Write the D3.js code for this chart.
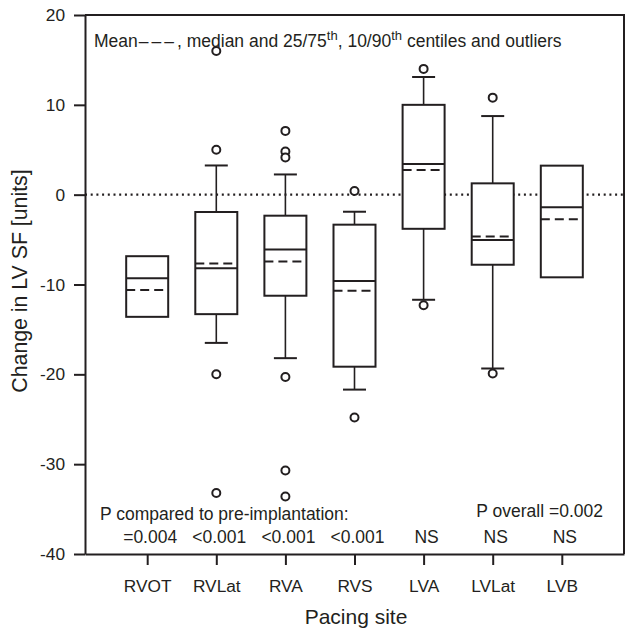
<!DOCTYPE html>
<html>
<head>
<meta charset="utf-8">
<script src="https://cdn.jsdelivr.net/npm/d3@7"></script>
<style>
  body { margin: 0; background: #fff; }
  svg text { font-family: "Liberation Sans", Arial, sans-serif; fill: #231f20; }
</style>
</head>
<body>
<svg id="chart" width="628" height="631"></svg>
<script>
// values
var sites = ["RVOT", "RVLat", "RVA", "RVS", "LVA", "LVLat", "LVB"];
var q1 = [-13.6, -13.3, -11.25, -19.15, -3.8, -7.8, -9.2];
var q3 = [-6.85, -1.93, -2.34, -3.34, 10.0, 1.26, 3.23];
var medians = [-9.3, -8.2, -6.1, -9.6, 3.4, -5.05, -1.4];
var means = [-10.6, -7.65, -7.45, -10.7, 2.75, -4.65, -2.75];
var p10 = [null, -16.5, -18.2, -21.7, -11.7, -19.35, null];
var p90 = [null, 3.25, 2.25, -1.9, 13.1, 8.75, null];
var outliers = [
    [],
    [16, 5, -20, -33.2],
    [7.1, 4.8, 4.15, -20.3, -30.7, -33.6],
    [0.4, -24.8],
    [14, -12.3],
    [10.8, -19.9],
    []
];
var pValues = ["=0.004", "<0.001", "<0.001", "<0.001", "NS", "NS", "NS"];
var yTicks = [-40, -30, -20, -10, 0, 10, 20];

var ink = "#231f20";
var svg = d3.select("#chart");
var mLeft = 85, mRight = 624, mTop = 15, mBottom = 554;

var x = d3.scalePoint().domain(sites).range([mLeft, mRight]).padding(0.9);
var y = d3.scaleLinear().domain([-40, 20]).range([mBottom, mTop]);

var boxW = 42, capW = 23;

// frame top + right
svg.append("path")
    .attr("d", "M" + mLeft + "," + mTop + "H" + mRight + "V" + mBottom)
    .attr("fill", "none").attr("stroke", ink).attr("stroke-width", 2);

// axes (plain hyphen for negatives, like the original)
var yAxis = svg.append("g")
    .attr("transform", "translate(" + mLeft + ",0)")
    .call(d3.axisLeft(y).tickValues(yTicks).tickFormat(function(d) { return String(d); })
        .tickSize(11).tickSizeOuter(0).tickPadding(9));
var xAxis = svg.append("g")
    .attr("transform", "translate(0," + mBottom + ")")
    .call(d3.axisBottom(x).tickSize(11).tickSizeOuter(0).tickPadding(15));
[yAxis, xAxis].forEach(function(g) {
    g.select(".domain").attr("stroke", ink).attr("stroke-width", 2);
    g.selectAll(".tick line").attr("stroke", ink).attr("stroke-width", 2);
    g.selectAll(".tick text").attr("font-size", 17.3).attr("fill", ink)
        .style("font-family", '"Liberation Sans", Arial, sans-serif');
});

// zero reference line
svg.append("line")
    .attr("x1", mLeft).attr("x2", mRight)
    .attr("y1", y(0)).attr("y2", y(0))
    .attr("stroke", ink).attr("stroke-width", 2.2)
    .attr("stroke-dasharray", "2,3.7");

var g = svg.selectAll("g.site")
    .data(sites)
    .enter().append("g").attr("class", "site");

g.each(function(s, i) {
    var el = d3.select(this), cx = x(s);
    if (p90[i] != null) {
        el.append("line").attr("x1", cx).attr("x2", cx)
            .attr("y1", y(q3[i])).attr("y2", y(p90[i]))
            .attr("stroke", ink).attr("stroke-width", 1.6);
        el.append("line").attr("x1", cx - capW / 2).attr("x2", cx + capW / 2)
            .attr("y1", y(p90[i])).attr("y2", y(p90[i]))
            .attr("stroke", ink).attr("stroke-width", 2);
    }
    if (p10[i] != null) {
        el.append("line").attr("x1", cx).attr("x2", cx)
            .attr("y1", y(q1[i])).attr("y2", y(p10[i]))
            .attr("stroke", ink).attr("stroke-width", 1.6);
        el.append("line").attr("x1", cx - capW / 2).attr("x2", cx + capW / 2)
            .attr("y1", y(p10[i])).attr("y2", y(p10[i]))
            .attr("stroke", ink).attr("stroke-width", 2);
    }
    el.append("rect")
        .attr("x", cx - boxW / 2).attr("width", boxW)
        .attr("y", y(q3[i])).attr("height", y(q1[i]) - y(q3[i]))
        .attr("fill", "#fff").attr("stroke", ink).attr("stroke-width", 2);
    el.append("line").attr("x1", cx - boxW / 2).attr("x2", cx + boxW / 2)
        .attr("y1", y(medians[i])).attr("y2", y(medians[i]))
        .attr("stroke", ink).attr("stroke-width", 2);
    el.append("line").attr("x1", cx - boxW / 2).attr("x2", cx + boxW / 2)
        .attr("y1", y(means[i])).attr("y2", y(means[i]))
        .attr("stroke", ink).attr("stroke-width", 2)
        .attr("stroke-dasharray", "9,5");
    el.selectAll("circle")
        .data(outliers[i])
        .enter().append("circle")
        .attr("cx", cx).attr("cy", function(v) { return y(v); })
        .attr("r", 4)
        .attr("fill", "#fff").attr("stroke", ink).attr("stroke-width", 2);
    el.append("text")
        .attr("x", cx + 3).attr("y", 543)
        .attr("text-anchor", "middle").attr("font-size", 17.5)
        .text(pValues[i]);
});

// header text
var head = svg.append("text").attr("x", 94).attr("y", 47).attr("font-size", 17.5);
head.append("tspan").text("Mean");
head.append("tspan").attr("letter-spacing", 3).attr("dx", 1).text("\u2013\u2013\u2013");
head.append("tspan").text(", median and 25/75");
head.append("tspan").attr("font-size", 13).attr("dy", -7).text("th");
head.append("tspan").attr("dy", 7).text(", 10/90");
head.append("tspan").attr("font-size", 13).attr("dy", -7).text("th");
head.append("tspan").attr("dy", 7).text(" centiles and outliers");

svg.append("text").attr("x", 100).attr("y", 520).attr("font-size", 17.5)
    .text("P compared to pre-implantation:");
svg.append("text").attr("x", 603).attr("y", 517).attr("font-size", 17.5)
    .attr("text-anchor", "end").text("P overall =0.002");

// axis titles
svg.append("text")
    .attr("transform", "translate(27,281) rotate(-90)")
    .attr("text-anchor", "middle").attr("font-size", 21.3)
    .text("Change in LV SF [units]");
svg.append("text")
    .attr("x", 356).attr("y", 624)
    .attr("text-anchor", "middle").attr("font-size", 21)
    .text("Pacing site");
</script>
</body>
</html>
